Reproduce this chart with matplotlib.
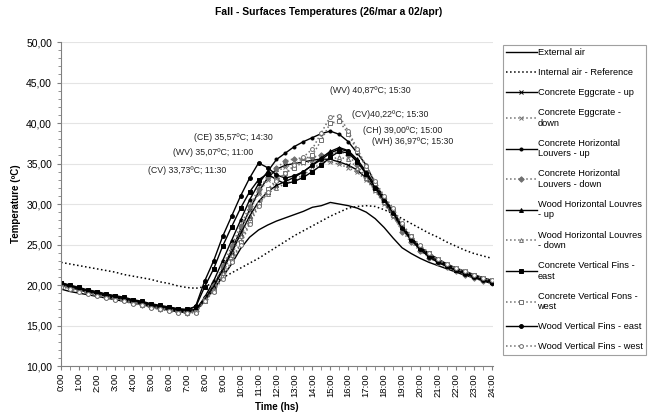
import numpy as np
import matplotlib
matplotlib.use("Agg")
import matplotlib.pyplot as plt
from matplotlib.ticker import FuncFormatter, MultipleLocator

plt.rcParams['font.family'] = ['Liberation Sans', 'DejaVu Sans']

# half-hour steps, 0:00 .. 24:00
hours = np.arange(0, 24.5, 0.5)
hour_labels = ["%d:00" % h for h in range(25)]

external_air = [19.5, 19.2, 19.0, 18.8, 18.6, 18.4, 18.2, 18.0, 17.8, 17.6, 17.3, 17.1, 16.9, 16.7, 16.6, 16.8,
                18.0, 19.5, 21.0, 22.6, 24.5, 25.9, 26.8, 27.4, 27.9, 28.3, 28.7, 29.1, 29.6, 29.8, 30.2, 30.0,
                29.8, 29.5, 29.0, 28.2, 27.1,
                25.8, 24.6, 23.9, 23.3, 22.8, 22.4, 22.0, 21.6, 21.2, 20.9, 20.5, 20.2]
internal_air = [22.8, 22.6, 22.4, 22.2, 22.0, 21.8, 21.6, 21.3, 21.1, 20.9, 20.7, 20.4, 20.2, 19.9, 19.7, 19.6,
                19.8, 20.3, 20.9, 21.5, 22.1, 22.7, 23.3, 24.0, 24.7, 25.4, 26.1, 26.7, 27.3, 27.9, 28.5, 29.0,
                29.5, 29.7, 29.8, 29.7, 29.3,
                28.8, 28.2, 27.6, 27.0, 26.4, 25.9, 25.3, 24.8, 24.3, 23.9, 23.6, 23.3]
ce_up = [20.2, 19.9, 19.6, 19.3, 19.1, 18.8, 18.6, 18.4, 18.1, 17.9, 17.6, 17.4, 17.2, 17.0, 16.9, 17.0,
         18.3, 20.0, 22.0, 24.3, 26.8, 29.3, 31.5, 33.2, 34.3, 34.8, 35.0, 35.2, 35.4, 35.57, 35.5, 35.2,
         34.8, 34.2, 33.2, 31.8, 30.2,
         28.6, 27.0, 25.8, 24.7, 23.9, 23.2, 22.6, 22.1, 21.7, 21.3, 20.9, 20.6]
ce_down = [20.1, 19.8, 19.5, 19.2, 19.0, 18.7, 18.5, 18.3, 18.0, 17.8, 17.5, 17.3, 17.1, 16.9, 16.8, 16.9,
           18.2, 19.8, 21.9, 24.2, 26.7, 29.2, 31.3, 33.0, 34.0, 34.6, 34.9, 35.1, 35.2, 35.3, 35.2, 34.9,
           34.5, 33.9, 33.0, 31.6, 30.0,
           28.4, 26.8, 25.6, 24.5, 23.7, 23.0, 22.5, 22.0, 21.6, 21.2, 20.8, 20.5]
ch_up = [20.0, 19.7, 19.4, 19.1, 18.9, 18.6, 18.4, 18.2, 17.9, 17.7, 17.4, 17.2, 17.0, 16.8, 16.7, 16.9,
         18.5, 20.5, 23.0, 25.5, 28.0, 30.5, 32.5, 34.0, 35.5, 36.3, 37.1, 37.7, 38.2, 38.7, 39.0, 38.6,
         37.7, 36.3, 34.8, 32.5, 30.8,
         29.0, 27.0, 25.6, 24.4, 23.5, 22.8, 22.3, 21.8, 21.4, 21.0, 20.6, 20.3]
ch_down = [19.9, 19.6, 19.3, 19.0, 18.8, 18.5, 18.3, 18.1, 17.8, 17.6, 17.3, 17.1, 16.9, 16.7, 16.6, 16.8,
           18.3, 20.0, 22.3, 24.8, 27.3, 29.8, 31.8, 33.3, 34.5, 35.3, 35.6, 35.7, 35.8, 36.0, 36.3, 36.5,
           36.0, 34.8, 33.3, 31.8, 30.3,
           28.6, 26.6, 25.3, 24.2, 23.4, 22.7, 22.2, 21.7, 21.3, 20.9, 20.5, 20.2]
wh_up = [20.1, 19.8, 19.5, 19.2, 18.9, 18.7, 18.5, 18.2, 18.0, 17.8, 17.5, 17.3, 17.1, 16.9, 16.8, 16.9,
         18.2, 19.8, 21.8, 24.0, 26.3, 28.5, 30.3, 31.5, 32.3, 32.8, 33.3, 34.0, 34.8, 35.7, 36.5, 36.97,
         36.6, 35.5, 34.0, 32.3, 30.7,
         29.2, 27.3, 25.9, 24.7, 23.8, 23.1, 22.5, 22.0, 21.6, 21.2, 20.8, 20.5]
wh_down = [20.0, 19.7, 19.4, 19.1, 18.9, 18.6, 18.4, 18.2, 17.9, 17.7, 17.4, 17.2, 17.0, 16.8, 16.7, 16.8,
           18.0, 19.5, 21.5, 23.7, 26.0, 28.2, 30.0, 31.3, 32.0, 32.5, 33.0, 33.6, 34.4, 35.0, 35.5, 35.8,
           35.5, 34.5, 33.2, 31.7, 30.2,
           28.7, 26.9, 25.6, 24.5, 23.6, 22.9, 22.4, 21.9, 21.5, 21.1, 20.7, 20.4]
cv_east = [20.3, 20.0, 19.7, 19.4, 19.2, 18.9, 18.7, 18.5, 18.2, 18.0, 17.7, 17.5, 17.3, 17.1, 17.0, 17.3,
           19.8, 22.0, 24.8, 27.2, 29.5, 31.5, 33.0, 33.73, 33.0, 32.5, 32.8, 33.3, 34.0, 34.8, 35.8, 36.5,
           36.3, 35.2, 33.7, 32.0, 30.5,
           29.0, 27.2, 25.8, 24.6, 23.7, 23.0, 22.4, 21.9, 21.5, 21.1, 20.7, 20.4]
cv_west = [19.9, 19.6, 19.3, 19.0, 18.8, 18.5, 18.3, 18.1, 17.8, 17.6, 17.3, 17.1, 16.9, 16.7, 16.6, 16.7,
           18.0, 19.3, 21.0, 23.0, 25.3, 27.8, 30.0, 31.8, 33.0, 33.8, 34.5, 35.2, 36.0, 37.9, 40.0, 40.22,
           38.7, 36.5, 34.5, 32.6, 30.8,
           29.3, 27.4, 26.0, 24.8, 23.9, 23.1, 22.5, 22.0, 21.6, 21.2, 20.8, 20.5]
wv_east = [20.2, 19.9, 19.6, 19.3, 19.0, 18.8, 18.6, 18.3, 18.1, 17.9, 17.6, 17.4, 17.2, 17.0, 16.9, 17.4,
           20.5, 23.0, 26.0, 28.5, 31.0, 33.2, 35.07, 34.5, 33.6, 33.2, 33.5, 34.0, 34.8, 35.5, 36.3, 36.8,
           36.5, 35.3, 33.8, 32.0, 30.5,
           28.9, 27.0, 25.6, 24.4, 23.5, 22.8, 22.3, 21.8, 21.4, 21.0, 20.6, 20.3]
wv_west = [19.8, 19.5, 19.2, 18.9, 18.7, 18.4, 18.2, 18.0, 17.7, 17.5, 17.2, 17.0, 16.8, 16.6, 16.5, 16.6,
           18.0, 19.2, 20.8, 22.8, 25.0, 27.5, 29.7, 31.5, 32.8, 33.8, 34.8, 35.8, 36.8, 38.8, 40.8, 40.87,
           39.0, 36.8, 34.7, 32.8, 31.0,
           29.5, 27.6, 26.1, 24.9, 24.0, 23.2, 22.6, 22.1, 21.7, 21.3, 20.9, 20.6]

# (text, hour, temperature) for the peak notes
notes = [("(WV) 40,87ºC; 15:30", 15.0, 44.0),
         ("(CV)40,22ºC; 15:30", 16.2, 41.0),
         ("(CH) 39,00ºC; 15:00", 16.8, 39.1),
         ("(WH) 36,97ºC; 15:30", 17.35, 37.7),
         ("(CE) 35,57ºC; 14:30", 7.4, 38.2),
         ("(WV) 35,07ºC; 11:00", 6.26, 36.4),
         ("(CV) 33,73ºC; 11:30", 4.82, 34.1)]

fig = plt.figure(figsize=(6.57, 4.16), dpi=100)
ax = fig.add_axes([0.093, 0.12, 0.657, 0.779])

grey = '#707070'
# label, data, linestyle, marker, color, marker face
series = [
    ("External air", external_air, '-', None, 'black', 'black'),
    ("Internal air - Reference", internal_air, ':', None, 'black', 'black'),
    ("Concrete Eggcrate - up", ce_up, '-', 'x', 'black', 'black'),
    ("Concrete Eggcrate -\ndown", ce_down, ':', 'x', grey, grey),
    ("Concrete Horizontal\nLouvers - up", ch_up, '-', 'o', 'black', 'black'),
    ("Concrete Horizontal\nLouvers - down", ch_down, ':', 'D', grey, grey),
    ("Wood Horizontal Louvres\n- up", wh_up, '-', '^', 'black', 'black'),
    ("Wood Horizontal Louvres\n- down", wh_down, ':', '^', grey, 'white'),
    ("Concrete Vertical Fins -\neast", cv_east, '-', 's', 'black', 'black'),
    ("Concrete Vertical Fons -\nwest", cv_west, ':', 's', grey, 'white'),
    ("Wood Vertical Fins - east", wv_east, '-', 'o', 'black', 'black'),
    ("Wood Vertical Fins - west", wv_west, ':', 'o', grey, 'white'),
]

for label, data, ls, mk, col, face in series:
    ms = 3.5 if mk == 'x' else 2.8
    if mk == 'o' and ls == '-' and label.startswith("Concrete"):
        ms = 2.2
    ax.plot(hours, data, linestyle=ls, color=col, marker=mk, markersize=ms,
            markerfacecolor=face, markeredgecolor=col, markeredgewidth=0.7,
            linewidth=1.0 if ls == '-' else 1.1, label=label)

for txt, h, t in notes:
    ax.text(h, t, txt, fontsize=6.3, va='center', ha='left', color='#222222')

ax.set_xlim(0, 24.05)
ax.set_ylim(10, 50)
ax.set_xticks(range(25))
ax.set_xticklabels(hour_labels, rotation=90, fontsize=6.8)
ax.xaxis.set_minor_locator(MultipleLocator(0.5))
ax.yaxis.set_major_locator(MultipleLocator(5))
ax.yaxis.set_minor_locator(MultipleLocator(1))
ax.yaxis.set_major_formatter(FuncFormatter(lambda v, p: ("%.2f" % v).replace('.', ',')))
ax.tick_params(axis='y', labelsize=7.5, length=3, color='#808080')
ax.tick_params(axis='y', which='minor', length=2, color='#808080')
ax.tick_params(axis='x', which='both', length=3, color='#808080', pad=2)
ax.grid(axis='y', color='#e4e4e4', linewidth=0.8)
ax.set_axisbelow(True)
for s in ['top', 'right']:
    ax.spines[s].set_visible(False)
for s in ['left', 'bottom']:
    ax.spines[s].set_color('#808080')
    ax.spines[s].set_linewidth(0.8)

ax.set_ylabel("Temperature (ºC)", fontsize=7, fontweight='bold')
ax.set_xlabel("Time (hs)", fontsize=7, fontweight='bold', labelpad=4)
fig.suptitle("Fall - Surfaces Temperatures (26/mar a 02/apr)", fontsize=7.5,
             fontweight='bold', x=0.5, y=0.982)

leg = ax.legend(loc='upper left', bbox_to_anchor=(0.765, 0.893), bbox_transform=fig.transFigure,
                fontsize=6.7, handlelength=3.3, labelspacing=1.2, borderpad=0.35,
                handletextpad=0.1, borderaxespad=0, fancybox=False, framealpha=1)
leg.get_frame().set_edgecolor('#a0a0a0')
leg.get_frame().set_linewidth(0.8)

fig.savefig("out.png", dpi=100)
